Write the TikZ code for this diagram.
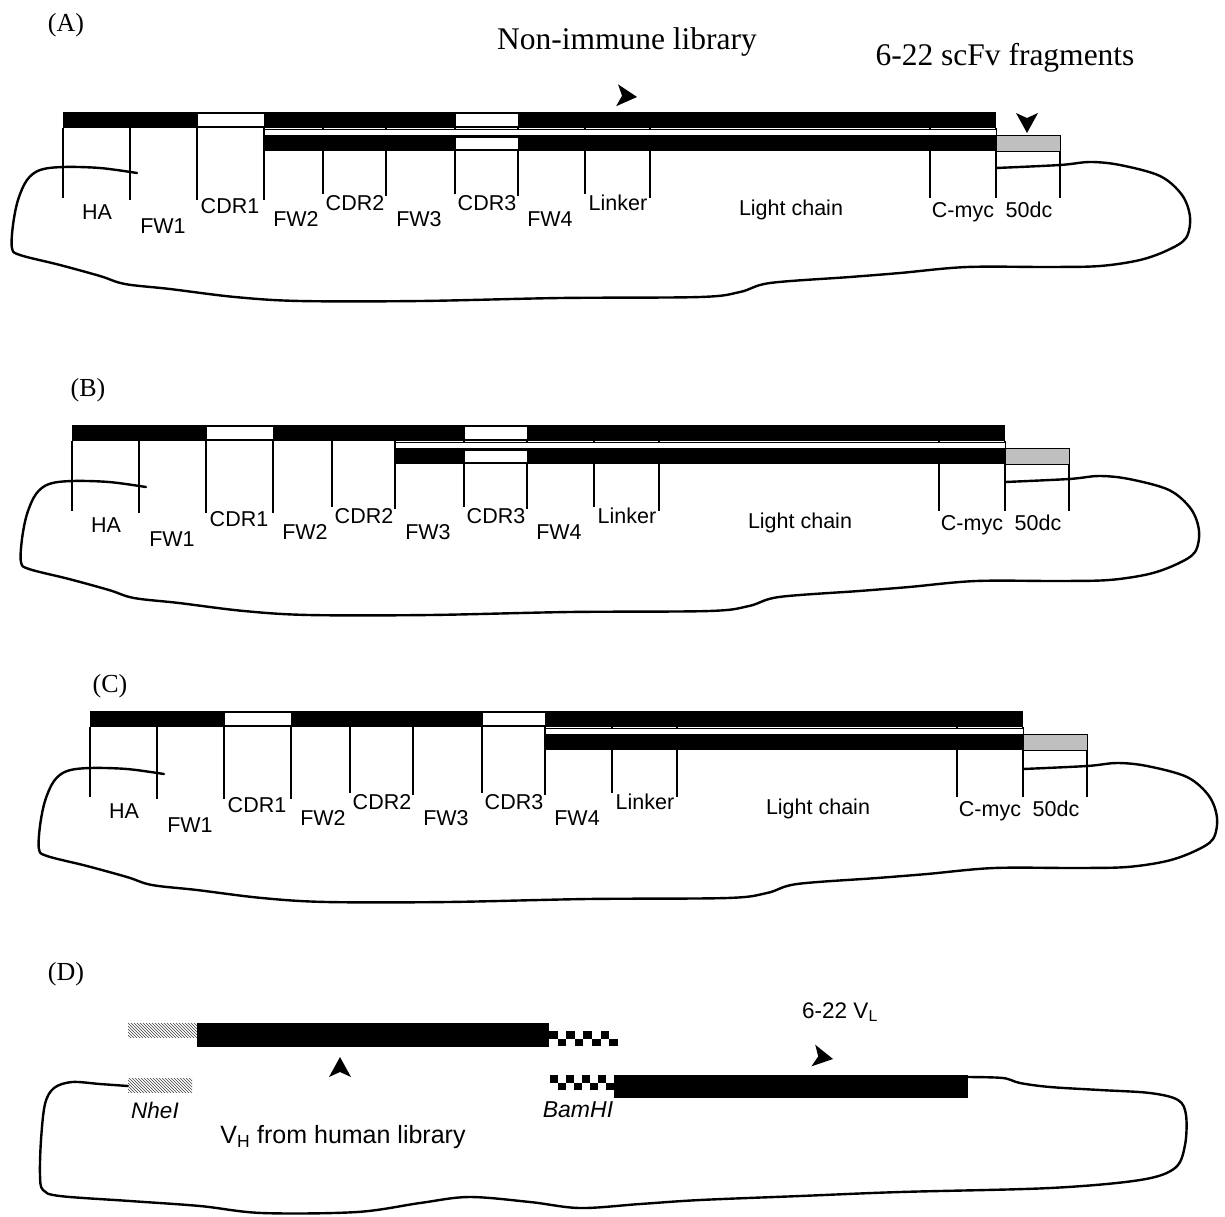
\documentclass[tikz,border=0pt]{standalone}
\usepackage{fontspec}
\setmainfont{Liberation Serif}
\setsansfont{Liberation Sans}
\usetikzlibrary{patterns}
\tikzset{
 lab/.style={font=\sffamily\fontsize{21.5}{21.5}\selectfont, inner sep=0pt},
 dlab/.style={font=\sffamily\fontsize{22.5}{22.5}\selectfont, inner sep=0pt},
 ttl/.style={font=\fontsize{31.5}{31.5}\selectfont, inner sep=0pt},
 plab/.style={font=\fontsize{26}{26}\selectfont, inner sep=0pt},
 tick/.style={line width=1.3pt},
 strip/.style={line width=0.8pt, draw=black, fill=white},
 outl/.style={line width=2.4pt, line join=round, line cap=round},
 wbox/.style={fill=white, draw=black, line width=1pt},
 tag/.style={fill=gray!50, draw=black, line width=1pt},
 hatch/.style={pattern=north west lines, pattern color=black!75},
 ahd/.pic={\fill (0,0) -- (-20,-11) -- (-15,0) -- (-20,11) -- cycle;}
}
% #1 ox, #2 ty, #3 second bar start (relative), #4 CDR3 white in second bar (1/0)
\newcommand{\panelbars}[4]{%
 \begin{scope}[shift={(#1,#2)}]
  \foreach \x/\e in {0/86,67/88,134/88,201/88,260/82,323/84,392/82,455/84,522/82,587/86,867/86,933/86}
   \draw[tick] (\x,16) -- (\x,\e);
  \draw[tick] (997,39) -- (997,86);
  \draw[strip] (#3,17.5) rectangle (933,23.5);
  \fill (0,0) rectangle (933,16);
  \draw[wbox] (134,1.5) rectangle (201,14.5);
  \draw[wbox] (392,1.5) rectangle (455,14.5);
  \fill (#3,24) rectangle (933,39);
  \ifnum#4=1 \draw[wbox] (392,25.5) rectangle (455,37.5);\fi
  \draw[tag] (933,23.5) rectangle (997,39);
 \end{scope}}
% #1 ox, #2 ty, #3 prefix
\newcommand{\panellabels}[3]{%
 \begin{scope}[shift={(#1,#2)}]
  \foreach \t/\cx/\dy [count=\i] in {HA/34/100,FW1/100/114,CDR1/167/94,FW2/233/107,CDR2/292/91,FW3/356/107,CDR3/424/91,FW4/487/107,Linker/555/91,Light chain/728/98,C-myc/900/100,50dc/966/98}
   \node[lab] (#3\i) at (\cx,\dy) {\t};
 \end{scope}}
\newcommand{\bodyoutline}{%
 \draw[outl] plot[smooth, tension=0.55] coordinates {(137,173) (100,168) (63,167) (40,170) (27,180) (18,200) (13,225) (12,248) (20,255) (60,265) (100,276) (125,284) (170,289) (235,297) (300,301) (420,301) (560,298) (700,297) (740,292) (770,283) (850,277) (900,273) (967,267) (1050,267) (1100,266) (1140,260) (1168,250) (1186,238) (1190,217) (1182,195) (1160,176) (1120,165) (1090,162) (1060,165) (996,168)};}
\begin{document}
\begin{tikzpicture}[x=1pt,y=-1pt]
\useasboundingbox[fill=white] (0,0) rectangle (1225,1216);
% ---------- (A)
\node[plab] (tA) at (66,25) {(A)};
\node[ttl] (nonimm) at (627,42) {Non-immune library};
\node[ttl] (frag) at (1005,58) {6-22 scFv fragments};
\bodyoutline
\panelbars{63}{112}{201}{1}
\panellabels{63}{112}{A}
\pic[rotate=-5] at (637,97) {ahd};
\pic[rotate=-90] at (1027,133) {ahd};
% ---------- (B)
\node[plab] (tB) at (88,390) {(B)};
\begin{scope}[shift={(9,314)}]\bodyoutline\end{scope}
\panelbars{72}{425}{323}{1}
\panellabels{72}{425}{B}
% ---------- (C)
\node[plab] (tC) at (110,686) {(C)};
\begin{scope}[shift={(27,601)}]\bodyoutline\end{scope}
\panelbars{90}{711}{455}{0}
\panellabels{90}{711}{C}
% ---------- (D)
\node[plab] (tD) at (66,974) {(D)};
\draw[outl] plot[smooth, tension=0.55] coordinates {(128,1086) (100,1084) (72,1082) (54,1088) (45,1104) (41,1140) (40,1175) (43,1190) (60,1196) (130,1201) (200,1206) (262,1213) (357,1212) (420,1203) (469,1197) (530,1202) (580,1208) (640,1204) (700,1200) (800,1196) (900,1192) (1050,1188) (1140,1180) (1175,1168) (1185,1145) (1186,1115) (1178,1100) (1150,1093) (1100,1090) (1050,1087) (1020,1083) (1003,1078) (968,1077)};
\fill[hatch] (128,1023) rectangle (197,1037);
\fill (197,1023) rectangle (549,1047);
\foreach \i in {0,2,4,6} \fill (549+\i*8.6,1031) rectangle ++(8.6,7.5);
\foreach \i in {1,3,5,7} \fill (549+\i*8.6,1038.5) rectangle ++(8.6,7.5);
\fill[hatch] (128,1078) rectangle (192,1092);
\foreach \i in {0,2,4,6} \fill (550+\i*8,1075) rectangle ++(8,7.5);
\foreach \i in {1,3,5,7} \fill (550+\i*8,1082.5) rectangle ++(8,7.5);
\fill (614,1075) rectangle (968,1098);
\pic[rotate=90] at (340,1057) {ahd};
\pic[rotate=-10] at (833,1059) {ahd};
\node[dlab] (vl) at (840,1012) {6-22 V\textsubscript{L}};
\node[dlab, font=\sffamily\itshape\fontsize{22.5}{22.5}\selectfont] (nhe) at (155,1110) {NheI};
\node[dlab, font=\sffamily\fontsize{25}{25}\selectfont] (vh) at (343,1137) {V\textsubscript{H} from human library};
\node[dlab, font=\sffamily\itshape\fontsize{23}{23}\selectfont] (bam) at (578,1110) {BamHI};
\end{tikzpicture}
\end{document}
